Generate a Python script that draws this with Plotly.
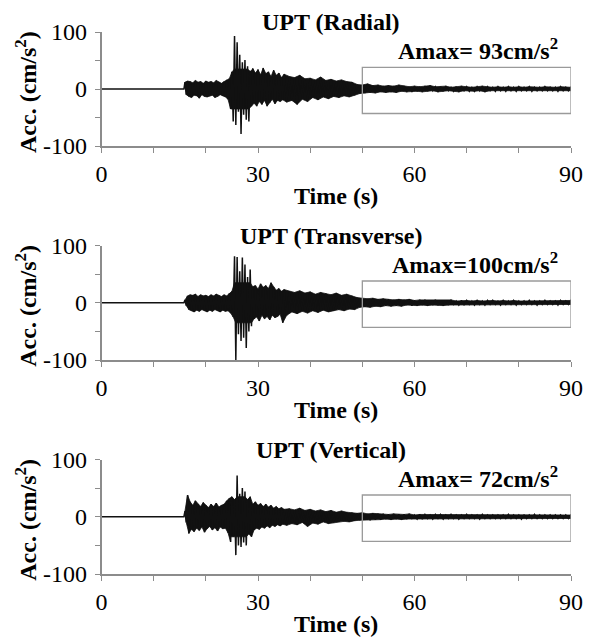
import plotly.graph_objects as go

# ---------------- data ----------------
PANELS = ["UPT (Radial)", "UPT (Transverse)", "UPT (Vertical)"]
AMAX_TEXT = ["Amax= 93cm/s<sup>2</sup>", "Amax=100cm/s<sup>2</sup>", "Amax= 72cm/s<sup>2</sup>"]
X_TICKS = [0, 10, 20, 30, 40, 50, 60, 70, 80, 90]
X_LABELS = ["0", "", "", "30", "", "", "60", "", "", "90"]
Y_TICKS = [-100, -50, 0, 50, 100]
Y_LABELS = ["-100", "", "0", "", "100"]

T_PRE = [0.0, 15.8]
A_PRE = [0.0, 0.0]
T_DENSE = [16.0, 16.5, 17.0, 17.5, 18.0, 18.5, 19.0, 19.5, 20.0, 20.5,
           21.0, 21.5, 22.0, 22.5, 23.0, 23.5, 24.0, 24.5, 25.0, 25.5,
           26.0, 26.5, 27.0, 27.5, 28.0, 28.5, 29.0, 29.5, 30.0, 30.5,
           31.0, 31.5, 32.0, 32.5, 33.0, 33.5, 34.0, 34.5, 35.0]
T_TAIL = [36, 37, 38, 39, 40, 41, 42, 43, 44, 45,
          46, 47, 48, 49, 50, 51, 52, 53, 54, 55,
          56, 57, 58, 59, 60, 61, 62, 63, 64, 65,
          66, 67, 68, 69, 70, 71, 72, 73, 74, 75,
          76, 77, 78, 79, 80, 81, 82, 83, 84, 85,
          86, 87, 88, 89, 90]

UP_RAD = [12, 14, 13, 11, 15, 12, 13, 10, 14, 12,
          13, 11, 15, 12, 10, 13, 16, 18, 30, 93,
          82, 60, 47, 51, 40, 31, 36, 28, 34, 25,
          37, 27, 30, 22, 33, 24, 28, 20, 26,
          22, 20, 24, 18, 19, 16, 21, 15, 17, 14,
          16, 13, 12, 8, 7, 9, 6, 7, 5, 6,
          5, 7, 5, 4, 5, 4, 5, 6, 4, 4,
          5, 3, 4, 5, 4, 3, 4, 5, 4, 3,
          4, 3, 4, 3, 4, 3, 4, 3, 3, 4,
          3, 3, 4, 3, 3]
LO_RAD = [-10, -13, -15, -11, -12, -16, -10, -13, -14, -12,
          -11, -15, -13, -10, -12, -14, -18, -35, -57, -63,
          -40, -79, -45, -54, -57, -30, -25, -30, -22, -27,
          -20, -30, -24, -18, -26, -20, -22, -19, -23,
          -20, -27, -18, -22, -15, -19, -14, -17, -13, -15,
          -12, -14, -11, -8, -7, -6, -7, -5, -6, -5,
          -6, -4, -5, -5, -4, -5, -4, -3, -5, -4,
          -3, -4, -5, -3, -4, -4, -3, -5, -3, -4,
          -3, -4, -3, -4, -3, -3, -4, -3, -3, -3,
          -3, -4, -3, -3, -3]
UP_TRA = [5, 12, 14, 13, 15, 11, 14, 12, 13, 11,
          14, 12, 15, 13, 11, 14, 12, 16, 20, 81,
          80, 55, 79, 67, 45, 58, 28, 30, 24, 33,
          27, 30, 25, 35, 28, 22, 25, 20, 23,
          20, 18, 21, 17, 19, 15, 18, 16, 14, 17,
          13, 15, 12, 9, 8, 7, 8, 6, 7, 6,
          5, 6, 5, 6, 4, 5, 5, 4, 5, 4,
          4, 5, 3, 4, 4, 3, 4, 3, 4, 4,
          3, 4, 3, 4, 3, 3, 4, 3, 3, 4,
          3, 3, 4, 3, 4]
LO_TRA = [-5, -12, -14, -16, -13, -15, -12, -14, -16, -13,
          -15, -12, -14, -16, -13, -15, -14, -18, -25, -100,
          -55, -67, -61, -79, -50, -41, -28, -25, -32, -22,
          -28, -24, -30, -22, -26, -24, -20, -35, -22,
          -16, -19, -15, -18, -14, -17, -13, -16, -14, -12,
          -14, -11, -12, -8, -7, -8, -6, -7, -5, -6,
          -5, -6, -4, -5, -5, -4, -5, -4, -4, -5,
          -4, -3, -4, -4, -3, -4, -3, -4, -3, -3,
          -4, -3, -3, -4, -3, -3, -3, -4, -3, -3,
          -3, -4, -3, -3, -3]
UP_VER = [10, 38, 26, 20, 28, 22, 18, 25, 20, 16,
          22, 18, 24, 17, 20, 22, 28, 32, 35, 30,
          72, 40, 50, 44, 30, 35, 22, 26, 20, 23,
          18, 22, 17, 20, 15, 18, 14, 16, 13,
          14, 12, 15, 11, 13, 10, 12, 9, 11, 8,
          10, 8, 7, 6, 7, 5, 6, 5, 5, 4,
          5, 4, 4, 5, 3, 4, 4, 3, 4, 4,
          3, 4, 3, 3, 4, 3, 3, 4, 3, 3,
          3, 3, 4, 3, 3, 3, 3, 4, 3, 3,
          3, 3, 3, 3, 3]
LO_VER = [-10, -29, -22, -26, -20, -24, -18, -27, -21, -17,
          -23, -19, -25, -18, -21, -20, -28, -44, -35, -67,
          -50, -53, -45, -50, -30, -35, -23, -20, -22, -18,
          -20, -16, -19, -15, -17, -14, -16, -13, -15,
          -12, -14, -10, -17, -11, -13, -9, -12, -10, -9,
          -8, -9, -7, -6, -5, -6, -5, -5, -4, -5,
          -4, -5, -4, -3, -4, -4, -3, -4, -3, -4,
          -3, -3, -4, -3, -3, -3, -4, -3, -3, -3,
          -3, -3, -3, -3, -4, -3, -3, -3, -3, -3,
          -3, -3, -3, -3, -3]

UPS = [UP_RAD, UP_TRA, UP_VER]
LOS = [LO_RAD, LO_TRA, LO_VER]

W, H = 597, 642
FONT = "Liberation Serif, Times New Roman, serif"
X_L, X_R = 101.5, 571.0
PLOT_TOP = [32.0, 245.5, 459.5]
PLOT_BOT = [146.0, 360.0, 574.0]
AXCOL = "#8c8c8c"
BOX = dict(x0=50, x1=90, y0=-43, y1=38)
# time spans where the oscillation is so dense that it prints as a solid band
# (span start, span end, clip level of the solid core)
SOLID_SPANS = [(16.0, 24.5, 200), (24.5, 29.0, 35), (29.0, 91.0, 200)]
TXT = 24


def px_x(p):
    return p / W


def px_y(p):
    return 1 - p / H


def build_trace(up, lo):
    t = list(T_DENSE) + list(T_TAIL)
    xs = list(T_PRE)
    ys = list(A_PRE)
    for i in range(len(t)):
        dt = (t[i + 1] - t[i]) if i + 1 < len(t) else 1.0
        xs += [t[i], t[i] + dt / 2]
        ys += [up[i], lo[i]]
    px, py = [], []
    for a, b, clip in SOLID_SPANS:
        ux, uy, lx, ly = [], [], [], []
        for i in range(len(t)):
            if a <= t[i] <= b:
                dt = (t[i + 1] - t[i]) if i + 1 < len(t) else 1.0
                ux.append(t[i]); uy.append(min(up[i], clip))
                lx.append(t[i] + dt / 2); ly.append(max(lo[i], -clip))
        if px:
            px.append(None); py.append(None)
        px += ux + lx[::-1] + [ux[0]]
        py += uy + ly[::-1] + [uy[0]]
    return xs, ys, px, py


fig = go.Figure()
annotations = []
shapes = []
layout = {}
BLACK = "#000000"
INK = "#111111"

for k in range(3):
    sfx = "" if k == 0 else str(k + 1)
    xs, ys, px, py = build_trace(UPS[k], LOS[k])
    fig.add_trace(go.Scatter(x=px, y=py, mode="lines", fill="toself",
                             fillcolor=INK, line=dict(color=INK, width=0.8),
                             xaxis="x" + sfx, yaxis="y" + sfx,
                             showlegend=False, hoverinfo="skip"))
    fig.add_trace(go.Scatter(x=xs, y=ys, mode="lines",
                             line=dict(color=INK, width=1.5),
                             xaxis="x" + sfx, yaxis="y" + sfx,
                             showlegend=False, hoverinfo="skip"))
    common = dict(showgrid=False, zeroline=False, automargin=False,
                  showline=True, linecolor=AXCOL, linewidth=1.5,
                  ticks="outside", ticklen=5, tickwidth=1.2, tickcolor=AXCOL,
                  tickfont=dict(family=FONT, size=TXT, color=BLACK),
                  fixedrange=True)
    layout["xaxis" + sfx] = dict(domain=[px_x(X_L), px_x(X_R)], anchor="y" + sfx,
                                 range=[0, 90], tickvals=X_TICKS, ticktext=X_LABELS,
                                 ticklabelstandoff=0, **common)
    layout["yaxis" + sfx] = dict(domain=[px_y(PLOT_BOT[k]), px_y(PLOT_TOP[k])],
                                 anchor="x" + sfx, range=[-100, 100],
                                 tickvals=Y_TICKS, ticktext=Y_LABELS,
                                 ticklabelstandoff=3, **common)
    shapes.append(dict(type="rect", xref="x" + sfx, yref="y" + sfx,
                       x0=BOX["x0"], x1=BOX["x1"], y0=BOX["y0"], y1=BOX["y1"],
                       line=dict(color="#9a9a9a", width=1.3)))
    bold = dict(family=FONT, size=TXT, color=BLACK, weight="bold")
    annotations.append(dict(xref="paper", yref="paper",
                            x=px_x(331), y=px_y(PLOT_TOP[k] - 10),
                            text=PANELS[k], showarrow=False,
                            xanchor="center", yanchor="middle", font=bold))
    annotations.append(dict(xref="paper", yref="paper",
                            x=px_x(560), y=px_y(PLOT_TOP[k] + 17),
                            text=AMAX_TEXT[k], showarrow=False,
                            xanchor="right", yanchor="middle", font=bold))
    annotations.append(dict(xref="paper", yref="paper",
                            x=px_x(336), y=px_y(PLOT_BOT[k] + 50),
                            text="Time (s)", showarrow=False,
                            xanchor="center", yanchor="middle", font=bold))
    annotations.append(dict(xref="paper", yref="paper",
                            x=px_x(26), y=px_y((PLOT_TOP[k] + PLOT_BOT[k]) / 2 + 3),
                            text="Acc. (cm/s<sup>2</sup>)", showarrow=False,
                            textangle=-90, xanchor="center", yanchor="middle",
                            font=bold))

fig.update_layout(template="none", width=W, height=H,
                  margin=dict(l=0, r=0, t=0, b=0, pad=0, autoexpand=False),
                  paper_bgcolor="white", plot_bgcolor="white",
                  annotations=annotations, shapes=shapes, **layout)

fig.write_html("out.html")
